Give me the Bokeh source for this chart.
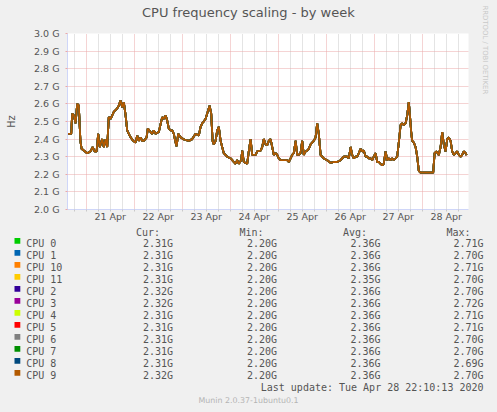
from math import pi
from bokeh.plotting import figure
from bokeh.layouts import column
from bokeh.models import (Range1d, FixedTicker, Title, GlobalInlineStyleSheet)
from bokeh.core.properties import value
from bokeh.embed import file_html
from bokeh.resources import INLINE

# ---------------- data (hours since 21 Apr 00:00, GHz) ----------------
hours = [
    -9.5, -7.5, -7.0, -6.2, -5.3, -4.5, -3.7, -2.9, -2.3, -1.2,
    0.5, 2.2, 3.2, 4.2, 5.2, 6.0, 6.8, 8.0, 8.8, 9.7,
    10.5, 11.3, 12.2, 13.0, 13.8, 15.2, 16.3, 17.2, 18.0, 18.8,
    19.7, 20.5, 21.3, 22.2, 23.5, 24.7, 25.5, 26.3, 27.2, 28.0,
    28.8, 30.2, 30.8, 32.2, 33.0, 33.8, 34.7, 36.3, 38.0, 38.8,
    39.7, 40.5, 41.3, 42.2, 43.0, 43.8, 44.7, 45.2, 46.0, 47.2,
    48.5, 49.7, 51.3, 53.0, 54.7, 56.3, 57.2, 58.0, 58.8, 59.7,
    60.5, 61.7, 62.5, 63.2, 63.8, 64.7, 65.5, 66.3, 67.2, 68.0,
    68.8, 70.5, 72.2, 73.8, 74.7, 75.5, 76.3, 77.5, 78.0, 78.8,
    80.5, 81.3, 82.2, 83.0, 84.7, 85.5, 87.2, 88.0, 88.8, 89.7,
    90.5, 91.3, 92.2, 93.0, 93.8, 94.7, 95.5, 96.3, 97.2, 98.8,
    100.5, 101.3, 102.2, 103.0, 103.8, 104.7, 105.5, 106.3, 107.2, 108.0,
    108.8, 109.7, 110.5, 111.3, 112.2, 113.0, 113.8, 114.7, 115.5, 116.3,
    117.2, 118.0, 118.8, 120.5, 122.2, 123.8, 125.5, 127.2, 128.0, 128.8,
    130.5, 131.3, 132.2, 133.0, 133.8, 134.7, 135.5, 136.3, 137.2, 138.0,
    138.8, 139.7, 140.5, 141.3, 142.2, 143.0, 143.8, 144.7, 145.5, 146.3,
    147.2, 148.0, 148.8, 149.7, 150.5, 151.3, 152.2, 153.0, 153.8, 154.7,
    155.5, 156.3, 157.2, 158.0, 158.8, 159.7, 160.5, 161.3, 161.8, 162.5,
    163.0, 163.8, 164.7, 165.5, 166.3, 167.2, 168.8, 170.5, 172.2, 173.5,
    174.2, 175.2, 176.3, 177.2, 178.0, 178.8, 179.7, 180.5, 181.3, 182.2,
    183.0, 183.8, 184.7, 185.5, 186.3, 187.2, 188.0, 188.8, 189.7, 190.2,
]
freq_ghz = [
    2.43, 2.43, 2.545, 2.535, 2.49, 2.60, 2.59, 2.39, 2.345, 2.335,
    2.32, 2.33, 2.355, 2.33, 2.33, 2.43, 2.355, 2.40, 2.355, 2.40,
    2.355, 2.525, 2.515, 2.535, 2.555, 2.57, 2.59, 2.62, 2.58, 2.61,
    2.535, 2.45, 2.43, 2.41, 2.39, 2.38, 2.42, 2.39, 2.41, 2.39,
    2.39, 2.41, 2.46, 2.44, 2.43, 2.45, 2.43, 2.44, 2.525, 2.515,
    2.535, 2.505, 2.46, 2.45, 2.45, 2.43, 2.38, 2.36, 2.43, 2.41,
    2.40, 2.395, 2.39, 2.40, 2.43, 2.42, 2.47, 2.49, 2.50, 2.515,
    2.545, 2.59, 2.545, 2.39, 2.37, 2.39, 2.45, 2.47, 2.39, 2.355,
    2.32, 2.30, 2.29, 2.27, 2.26, 2.28, 2.26, 2.28, 2.335, 2.27,
    2.26, 2.33, 2.40, 2.31, 2.31, 2.33, 2.335, 2.355, 2.40, 2.37,
    2.365, 2.39, 2.40, 2.355, 2.31, 2.32, 2.31, 2.29, 2.28, 2.28,
    2.28, 2.27, 2.29, 2.31, 2.32, 2.39, 2.31, 2.31, 2.32, 2.39,
    2.31, 2.33, 2.335, 2.345, 2.37, 2.38, 2.39, 2.41, 2.49, 2.43,
    2.31, 2.30, 2.29, 2.28, 2.265, 2.27, 2.27, 2.28, 2.29, 2.30,
    2.30, 2.29, 2.355, 2.31, 2.29, 2.30, 2.30, 2.32, 2.345, 2.33,
    2.335, 2.30, 2.30, 2.29, 2.29, 2.28, 2.30, 2.32, 2.27, 2.27,
    2.26, 2.25, 2.26, 2.33, 2.28, 2.29, 2.28, 2.29, 2.28, 2.29,
    2.30, 2.38, 2.48, 2.49, 2.48, 2.49, 2.535, 2.61, 2.545, 2.44,
    2.39, 2.38, 2.355, 2.30, 2.22, 2.21, 2.21, 2.21, 2.21, 2.21,
    2.32, 2.33, 2.31, 2.355, 2.44, 2.37, 2.33, 2.40, 2.41, 2.39,
    2.33, 2.31, 2.32, 2.33, 2.31, 2.30, 2.31, 2.33, 2.32, 2.31,
]

cpu_names = ["CPU 0", "CPU 1", "CPU 10", "CPU 11", "CPU 2", "CPU 3",
             "CPU 4", "CPU 5", "CPU 6", "CPU 7", "CPU 8", "CPU 9"]
cpu_colors = ["#00CC00", "#0066B3", "#FF8000", "#FFCC00", "#330099", "#990099",
              "#CCFF00", "#FF0000", "#808080", "#008F00", "#00487D", "#B35A00"]
cur_ghz = [2.31, 2.31, 2.31, 2.31, 2.32, 2.32, 2.31, 2.31, 2.31, 2.31, 2.31, 2.32]
min_ghz = [2.20, 2.20, 2.20, 2.20, 2.20, 2.20, 2.20, 2.20, 2.20, 2.20, 2.20, 2.20]
avg_ghz = [2.36, 2.36, 2.36, 2.35, 2.36, 2.36, 2.36, 2.36, 2.36, 2.36, 2.36, 2.36]
max_ghz = [2.71, 2.70, 2.71, 2.70, 2.70, 2.72, 2.71, 2.71, 2.70, 2.70, 2.69, 2.70]

y_ticks = [2.0, 2.1, 2.2, 2.3, 2.4, 2.5, 2.6, 2.7, 2.8, 2.9, 3.0]
y_tick_labels = ["2.0 G", "2.1 G", "2.2 G", "2.3 G", "2.4 G", "2.5 G",
                 "2.6 G", "2.7 G", "2.8 G", "2.9 G", "3.0 G"]
day_ticks = [12, 36, 60, 84, 108, 132, 156, 180]
day_labels = ["21 Apr", "22 Apr", "23 Apr", "24 Apr", "25 Apr", "26 Apr",
              "27 Apr", "28 Apr"]
midnights = [0, 24, 48, 72, 96, 120, 144, 168]
quarter_days = [h for h in range(-6, 192, 6)]
minor_quarter = [h for h in quarter_days if h % 24 != 0]

title_text = "CPU frequency scaling - by week"
unit_text = "Hz"
headers = ["Cur:", "Min:", "Avg:", "Max:"]
update_text = "Last update: Tue Apr 28 22:10:13 2020"
footer_text = "Munin 2.0.37-1ubuntu0.1"
watermark_text = "RRDTOOL / TOBI OETIKER"

# ---------------- layout (page pixels) ----------------
W, H = 497, 412
FL, FT, FW, FH = 67, 33, 401, 176
TOP_H = 222                      # nominal height of the chart figure
Q_TOP = 228.5                    # page y where the legend block starts
X0 = -9.35
X1 = X0 + FW * 0.5
Y0, Y1 = 2.0, 3.0

FONT = "#555555"
AXIS = "#CFD6F8"
MGRID = "#EBA8A8"
GRID = "#C8C8C8"
BACK = "#F0F0F0"

p = figure(frame_width=FW, frame_height=FH,
           min_border_left=FL, min_border_right=W - FL - FW,
           min_border_top=FT, min_border_bottom=TOP_H - FT - FH,
           x_range=Range1d(X0, X1), y_range=Range1d(Y0, Y1),
           output_backend="svg", toolbar_location=None)
p.frame_align = False
p.title = None
# spacer (nearest the frame) then the title above it
p.add_layout(Title(text=" ", standoff=11, text_font_size="1px",
                   text_color=BACK), "above")
p.add_layout(Title(text=title_text, align="left", offset=74.5, standoff=0,
                   vertical_align="bottom",
                   text_font="DejaVu Sans", text_font_size="13px",
                   text_font_style="normal", text_color=FONT), "above")
p.add_layout(Title(text=watermark_text, align="left", offset=-28, standoff=21,
                   vertical_align="top",
                   text_font="DejaVu Sans", text_font_size="6.9px",
                   text_font_style="normal", text_color="#C8C8C8"), "right")
p.background_fill_color = "#FFFFFF"
p.border_fill_color = BACK
p.outline_line_color = None
p.stylesheets.append(GlobalInlineStyleSheet(css="html, body { background: #F0F0F0; }"))

# x axis
p.xaxis.ticker = FixedTicker(ticks=day_ticks, minor_ticks=quarter_days)
p.xaxis.major_label_overrides = {t: s for t, s in zip(day_ticks, day_labels)}
p.xaxis.major_tick_out = 0
p.xaxis.major_tick_in = 0
p.xaxis.minor_tick_out = 2
p.xaxis.minor_tick_in = 0
p.xaxis.minor_tick_line_color = GRID
p.xaxis.axis_line_color = AXIS
p.xaxis.major_label_standoff = -1
p.xaxis.major_label_text_font = "DejaVu Sans"
p.xaxis.major_label_text_font_size = "9.5px"
p.xaxis.major_label_text_color = FONT

# y axis
p.yaxis.ticker = FixedTicker(ticks=y_ticks, minor_ticks=[])
p.yaxis.major_label_overrides = {t: s for t, s in zip(y_ticks, y_tick_labels)}
p.yaxis.major_tick_out = 2
p.yaxis.major_tick_in = 0
p.yaxis.major_tick_line_color = MGRID
p.yaxis.axis_line_color = AXIS
p.yaxis.major_label_standoff = 6
p.yaxis.major_label_text_font = "DejaVu Sans"
p.yaxis.major_label_text_font_size = "9.5px"
p.yaxis.major_label_text_color = FONT
p.yaxis.axis_label = unit_text
p.yaxis.axis_label_standoff = 14
p.yaxis.axis_label_text_font = "DejaVu Sans"
p.yaxis.axis_label_text_font_size = "9.7px"
p.yaxis.axis_label_text_font_style = "normal"
p.yaxis.axis_label_text_color = FONT

# grids
p.xgrid.ticker = FixedTicker(ticks=midnights, minor_ticks=minor_quarter)
p.xgrid.grid_line_color = MGRID
p.xgrid.grid_line_dash = "1 1"
p.xgrid.minor_grid_line_color = GRID
p.xgrid.minor_grid_line_dash = "1 1"
p.ygrid.ticker = FixedTicker(ticks=y_ticks, minor_ticks=[])
p.ygrid.grid_line_color = MGRID
p.ygrid.grid_line_dash = "1 1"

# series (drawn in legend order, CPU 9 last / on top)
for name, color in zip(cpu_names, cpu_colors):
    p.line(hours, freq_ghz, line_color=color, line_width=1.8)

# ---------------- legend block (page pixel coordinates) ----------------
q = figure(width=W, height=183, min_border=0,
           min_border_left=0, min_border_right=0,
           min_border_top=0, min_border_bottom=0,
           x_range=Range1d(0, W), y_range=Range1d(Q_TOP + 183, Q_TOP),
           x_axis_type=None, y_axis_type=None,
           output_backend="svg", toolbar_location=None)
q.frame_align = False
q.background_fill_color = BACK
q.border_fill_color = BACK
q.outline_line_color = None

MONO = value("DejaVu Sans Mono")
LSZ = value("10px")
row_base = [247.7 + 12 * i for i in range(len(cpu_names))]

q.text(x=[135.5, 239.0, 342.5, 446.0], y=[236.3] * 4, text=headers,
       text_font=MONO, text_font_size=LSZ, text_color=FONT,
       text_align="left", text_baseline="alphabetic")
q.quad(left=[14] * len(cpu_names), right=[19.8] * len(cpu_names),
       top=[b - 5.8 for b in row_base], bottom=row_base,
       fill_color=cpu_colors, line_color=None)
q.text(x=[25.7] * len(cpu_names), y=row_base, text=cpu_names,
       text_font=MONO, text_font_size=LSZ, text_color=FONT,
       text_align="left", text_baseline="alphabetic")
for xr, vals in zip([172.6, 276.6, 380.0, 483.0],
                    [cur_ghz, min_ghz, avg_ghz, max_ghz]):
    q.text(x=[xr] * len(vals), y=row_base, text=["%.2fG" % v for v in vals],
           text_font=MONO, text_font_size=LSZ, text_color=FONT,
           text_align="right", text_baseline="alphabetic")
q.text(x=[483.0], y=[391.0], text=[update_text],
       text_font=MONO, text_font_size=LSZ, text_color=FONT,
       text_align="right", text_baseline="alphabetic")
q.text(x=[248.0], y=[404.0], text=[footer_text],
       text_font=value("DejaVu Sans"), text_font_size=value("7.9px"),
       text_color="#B4B4B4", text_align="center", text_baseline="alphabetic")

layout = column(p, q, spacing=0)
open("out.html", "w").write(file_html(layout, INLINE))
